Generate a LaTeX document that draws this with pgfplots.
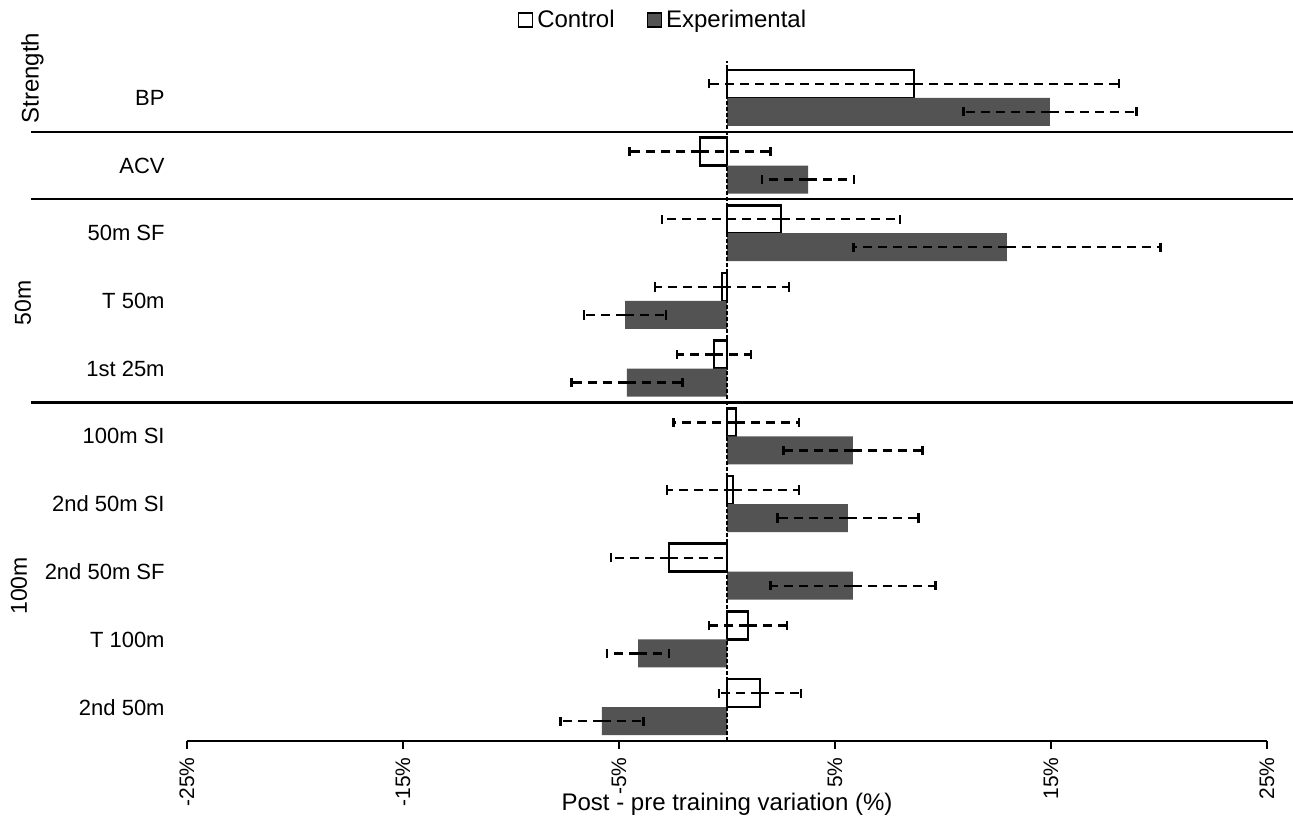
\documentclass[border=0pt]{standalone}
\usepackage{pgfplots}
\pgfplotsset{compat=1.18}
\usepackage{pgfplotstable}
\usepackage{fontspec}
\setmainfont{Liberation Sans}
\definecolor{expgray}{RGB}{83,83,83}

% y: category position (BP at top), c/ce: control mean and error, e/ee: experimental
\pgfplotstableread{
y c ce e ee
9 8.66 9.5 14.95 4.0
8 -1.25 3.26 3.75 2.13
7 2.5 5.5 12.96 7.1
6 -0.23 3.1 -4.72 1.9
5 -0.6 1.71 -4.63 2.57
4 0.42 2.9 5.83 3.22
3 0.28 3.05 5.6 3.26
2 -2.69 2.68 5.83 3.82
1 0.97 1.8 -4.12 1.43
0 1.53 1.9 -5.79 1.92
}\data

\pgfplotsset{
  errs/.style={draw=none, forget plot,
    error bars/.cd, x dir=both, x explicit, error mark=|,
    error bar style={draw=black, line width=1.2pt, dash pattern=on 4.5pt off 3pt},
    error mark options={draw=black, solid, line width=1.2pt, mark size=2.3pt}},
}

\begin{document}
\begin{tikzpicture}
\begin{axis}[
  scale only axis, width=540pt, height=338.5pt,
  xmin=-25, xmax=25, ymin=-0.5, ymax=9.5,
  clip=false,
  axis x line*=bottom, axis y line*=left,
  x axis line style={-, line width=1.1pt, black},
  y axis line style={draw=none},
  xtick={-25,-15,-5,5,15,25},
  xticklabels={-25\%,-15\%,-5\%,5\%,15\%,25\%},
  ytick={0,...,9},
  yticklabels={2nd 50m, T 100m, 2nd 50m SF, 2nd 50m SI, 100m SI, 1st 25m, T 50m, 50m SF, ACV, BP},
  tick align=outside, major tick length=4pt,
  xtick style={line width=1.1pt, black},
  ytick style={draw=none},
  xticklabel style={rotate=90, anchor=east, inner sep=4pt, font=\fontsize{10.5}{12}\selectfont},
  yticklabel style={anchor=east, inner sep=0pt, xshift=-7pt, font=\fontsize{11}{13}\selectfont},
  xlabel={Post - pre training variation (\%)},
  xlabel style={at={(axis description cs:0.5,-0.0935)}, anchor=center, font=\fontsize{12}{14}\selectfont},
  legend style={draw=none, fill=none, at={(axis description cs:0.4417,1.065)}, anchor=center,
    font=\fontsize{12}{14}\selectfont, /tikz/every even column/.append style={column sep=14pt}},
  legend columns=2,
  legend image code/.code={\draw[#1, line width=0.7pt] (0pt,-3.5pt) rectangle (7pt,3.5pt);},
]
\addplot[xbar, bar width=14pt, bar shift=7pt, fill=white, draw=black, line width=1.3pt]
  table[x=c, y=y] {\data};
\addlegendentry{Control}
\addplot[xbar, bar width=14pt, bar shift=-7pt, fill=expgray, draw=none]
  table[x=e, y=y] {\data};
\addlegendentry{Experimental}

% error bars at the centre of each bar (bar shift of 7pt = 0.2068 units)
\addplot[errs] table[x=c, y expr=\thisrow{y}+0.2068, x error=ce] {\data};
\addplot[errs] table[x=e, y expr=\thisrow{y}-0.2068, x error=ee] {\data};

\draw[line width=1pt, dash pattern=on 2pt off 1pt] (axis cs:0,-0.5) -- (axis cs:0,9.55);
\draw[line width=1.1pt] ([xshift=-78pt]axis cs:-25,8.5) -- ([xshift=13pt]axis cs:25,8.5);
\draw[line width=1.1pt] ([xshift=-78pt]axis cs:-25,7.5) -- ([xshift=13pt]axis cs:25,7.5);
\draw[line width=1.1pt] ([xshift=-78pt]axis cs:-25,4.5) -- ([xshift=13pt]axis cs:25,4.5);
\node[rotate=90, font=\fontsize{12}{14}\selectfont] at ([xshift=-77.25pt]axis cs:-25,9.29) {Strength};
\node[rotate=90, font=\fontsize{11.5}{13}\selectfont] at ([xshift=-82pt]axis cs:-25,5.97) {50m};
\node[rotate=90, font=\fontsize{11.5}{13}\selectfont] at ([xshift=-84pt]axis cs:-25,1.79) {100m};

\coordinate (bl) at (rel axis cs:0,0);
\coordinate (tr) at (rel axis cs:1,1);
\end{axis}
\pgfresetboundingbox
\path[use as bounding box] ([xshift=-93.5pt,yshift=-38pt]bl) rectangle ([xshift=13pt,yshift=32pt]tr);
\end{tikzpicture}
\end{document}
